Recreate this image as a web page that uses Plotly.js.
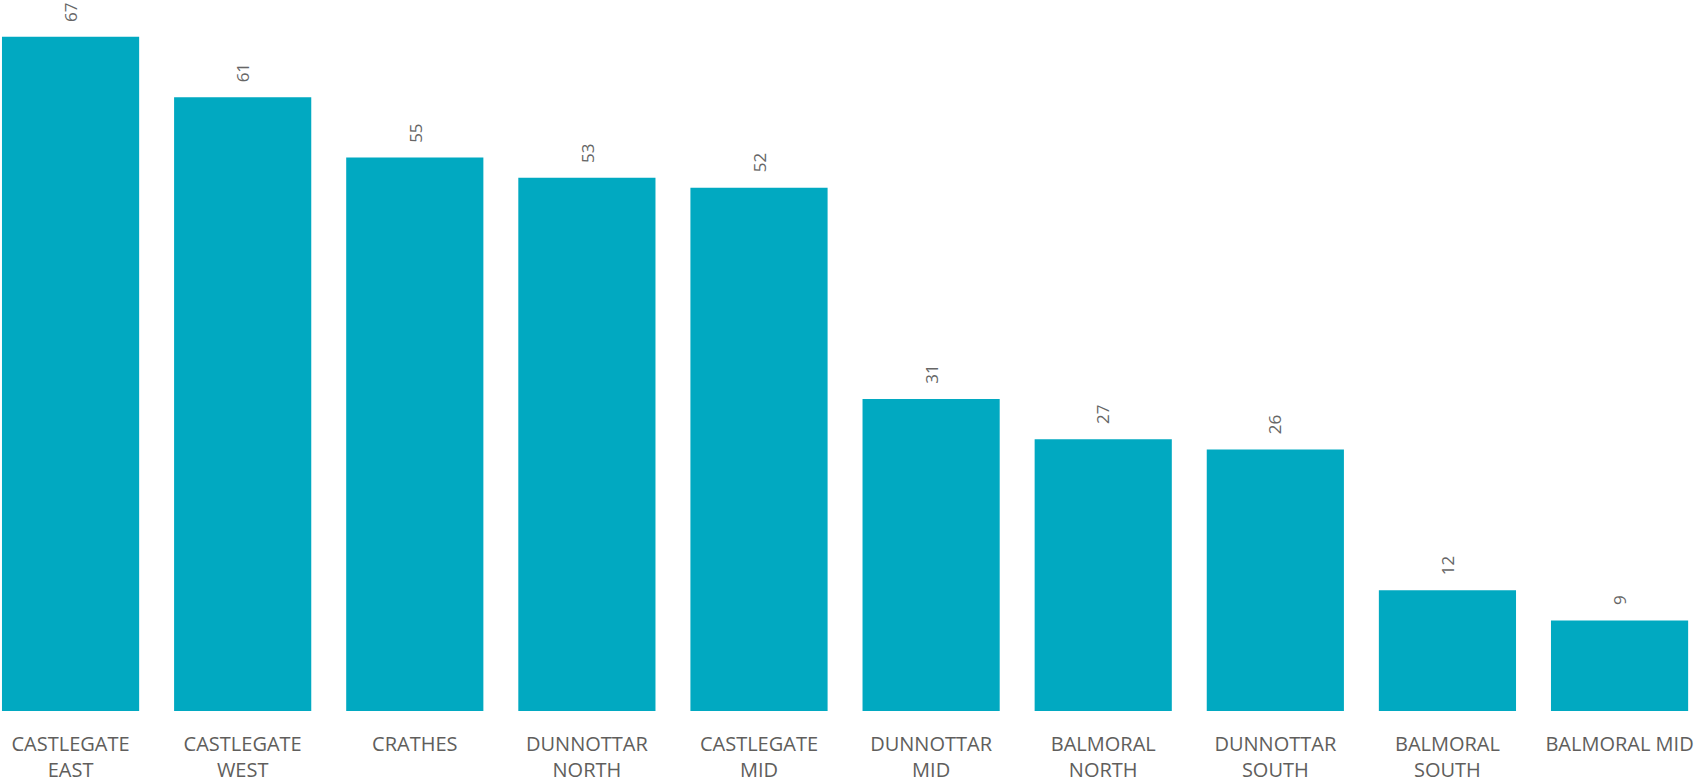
<!DOCTYPE html>
<html>
<head>
<meta charset="utf-8">
<script src="https://cdn.plot.ly/plotly-3.0.1.min.js"></script>
<style>html,body{margin:0;padding:0;background:#fff;}#chart{width:1697px;height:784px;}</style>
</head>
<body>
<div id="chart"></div>
<script>
const categories = ["CASTLEGATE EAST","CASTLEGATE WEST","CRATHES","DUNNOTTAR NORTH","CASTLEGATE MID","DUNNOTTAR MID","BALMORAL NORTH","DUNNOTTAR SOUTH","BALMORAL SOUTH","BALMORAL MID"];
const tickLabels = ["CASTLEGATE<br>EAST","CASTLEGATE<br>WEST","CRATHES","DUNNOTTAR<br>NORTH","CASTLEGATE<br>MID","DUNNOTTAR<br>MID","BALMORAL<br>NORTH","DUNNOTTAR<br>SOUTH","BALMORAL<br>SOUTH","BALMORAL MID"];
const values = [67,61,55,53,52,31,27,26,12,9];

const trace = {
  type: 'bar',
  x: categories,
  y: values,
  marker: {color: '#01A9C1'},
  hoverinfo: 'x+y'
};

const annotations = categories.map((c, i) => ({
  x: c, y: values[i], xref: 'x', yref: 'y',
  text: String(values[i]), showarrow: false,
  textangle: -90, yanchor: 'bottom', xanchor: 'center',
  yshift: 13,
  font: {family: 'Open Sans, sans-serif', size: 17, color: '#666666'}
}));

const layout = {
  width: 1697, height: 784,
  margin: {l: 0, r: 0, t: 0, b: 73, pad: 0},
  paper_bgcolor: '#ffffff', plot_bgcolor: '#ffffff',
  bargap: 0.203,
  showlegend: false,
  xaxis: {
    type: 'category',
    range: [-0.41, 9.45],
    tickmode: 'array', tickvals: categories, ticktext: tickLabels,
    ticks: '', showline: false, showgrid: false, zeroline: false,
    ticklabelstandoff: 19,
    tickfont: {family: 'Open Sans, sans-serif', size: 20, color: '#605E5C'},
    tickangle: 0
  },
  yaxis: {
    range: [0, 70.66],
    visible: false, showgrid: false, zeroline: false
  },
  annotations: annotations
};

Plotly.newPlot('chart', [trace], layout, {displayModeBar: false, staticPlot: true});
</script>
</body>
</html>
